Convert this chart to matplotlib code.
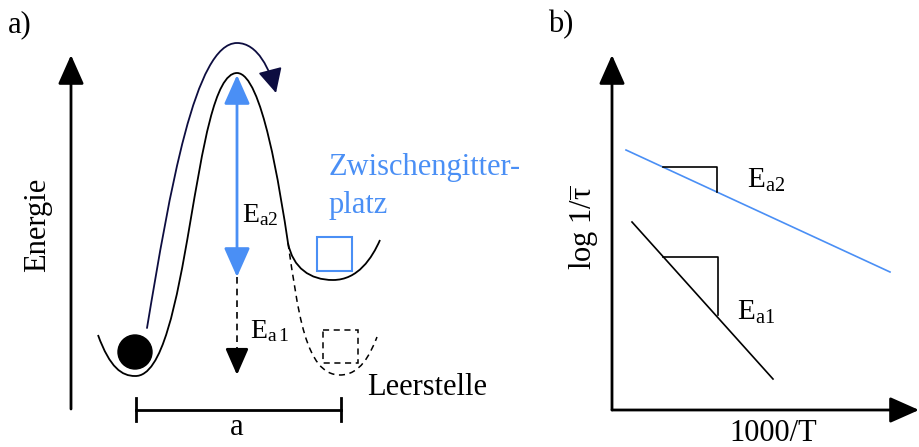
import matplotlib
matplotlib.use("Agg")
import matplotlib.pyplot as plt
from matplotlib.path import Path
from matplotlib.patches import PathPatch, FancyArrowPatch, Circle, Rectangle

# Schema in Pixelkoordinaten (Bild 919 x 447, y nach unten)
BLAU = "#4a8ff5"
NAVY = "#0d0d40"

# a) Potentialverlauf: Bezier-Stuetzpunkte (Start, dann je 3 Punkte pro Segment)
pot_fest = [(98, 335),
            (110, 368), (122, 376), (135, 376),
            (190, 378), (192, 73), (237, 73),
            (262, 73), (280, 190), (288, 243),
            (293, 268), (310, 280), (333, 280),
            (358, 280), (372, 258), (380, 240)]
pot_leer = [(288, 243),
            (298, 310), (305, 375), (340, 375),
            (360, 375), (370, 355), (377, 337)]
sprung = [(147, 328),
          (170, 190), (195, 43), (237, 43),
          (258, 43), (270, 70), (276, 93)]
ball = (135, 352, 17)
quad_zgp = (317, 237, 35, 34)
quad_leer = (323, 330, 35, 33)
pfeil_ea2 = (237, 75, 277)
pfeil_ea1 = (237, 277, 375)
skala = (136, 341, 410)

# b) Arrhenius-Geraden
gerade_ea2_x = [626, 890]
gerade_ea2_y = [150, 272]
gerade_ea1_x = [632, 773]
gerade_ea1_y = [222, 379]
dreieck_ea2 = [(663, 167), (717, 167), (717, 192)]
dreieck_ea1 = [(663, 257), (718, 257), (718, 315)]

plt.rcParams['font.family'] = ['Liberation Serif', 'DejaVu Serif']
plt.rcParams['mathtext.fontset'] = 'custom'
plt.rcParams['mathtext.rm'] = 'Liberation Serif'
plt.rcParams['mathtext.it'] = 'Liberation Serif:italic'

fig = plt.figure(figsize=(9.19, 4.47), dpi=100)
ax = fig.add_axes([0, 0, 1, 1])
ax.set_xlim(0, 919)
ax.set_ylim(447, 0)
ax.axis('off')


def bezier(punkte):
    codes = [Path.MOVETO] + [Path.CURVE4] * (len(punkte) - 1)
    return Path(punkte, codes)


def pfeil(p0, p1, farbe='black', lw=2, hl=17, hw=7.5, ls='-', beide=False):
    stil = '<|-|>' if beide else '-|>'
    a = FancyArrowPatch(p0, p1, arrowstyle=f'{stil},head_length={hl},head_width={hw}',
                        color=farbe, lw=lw, linestyle=ls, shrinkA=0, shrinkB=0,
                        mutation_scale=1)
    ax.add_patch(a)


# ---- a) ----
ax.add_patch(PathPatch(bezier(pot_fest), fc='none', ec='black', lw=1.3))
ax.add_patch(PathPatch(bezier(pot_leer), fc='none', ec='black', lw=1.1, ls=(0, (4, 3))))
ax.add_patch(Circle(ball[:2], ball[2], color='black'))
ax.add_patch(Rectangle(quad_zgp[:2], quad_zgp[2], quad_zgp[3], fc='none', ec=BLAU, lw=1.5))
ax.add_patch(Rectangle(quad_leer[:2], quad_leer[2], quad_leer[3], fc='none', ec='black',
                       lw=1.1, ls=(0, (4, 3))))

ax.add_patch(FancyArrowPatch(path=bezier(sprung), arrowstyle='-|>,head_length=15,head_width=7.5',
                             color=NAVY, lw=1.3, mutation_scale=1))

# Energieachse
pfeil((71, 409), (71, 55), lw=2, hl=18, hw=8)
# Ea2 Doppelpfeil und Ea1 gestrichelt
pfeil((pfeil_ea2[0], pfeil_ea2[2]), (pfeil_ea2[0], pfeil_ea2[1]), farbe=BLAU, lw=2,
      hl=18, hw=8, beide=True)
ax.plot([pfeil_ea1[0]] * 2, [pfeil_ea1[1], pfeil_ea1[2] - 14], color='black', lw=1.2,
        ls=(0, (4, 3)))
pfeil((pfeil_ea1[0], pfeil_ea1[2] - 16), (pfeil_ea1[0], pfeil_ea1[2]), hl=16, hw=7)

# Abstand a
ax.plot([skala[0], skala[1]], [skala[2], skala[2]], color='black', lw=2)
for xs in skala[:2]:
    ax.plot([xs, xs], [skala[2] - 12, skala[2] + 11], color='black', lw=2)

fs = 22
ax.text(8, 32, 'a)', fontsize=fs, ha='left', va='baseline')
ax.text(38, 225, 'Energie', fontsize=fs, rotation=90, ha='center', va='center')
ax.text(237, 435, 'a', fontsize=fs, ha='center', va='baseline')
ax.text(329, 175, 'Zwischengitter-', fontsize=fs, color=BLAU, ha='left', va='baseline')
ax.text(329, 213, 'platz', fontsize=fs, color=BLAU, ha='left', va='baseline')
ax.text(367, 395, 'Leerstelle', fontsize=fs, ha='left', va='baseline')
ax.text(242, 222, r'$\mathrm{E_{a2}}$', fontsize=20, ha='left', va='baseline')
ax.text(250, 338, r'$\mathrm{E_{a\,1}}$', fontsize=20, ha='left', va='baseline')

# ---- b) ----
pfeil((612, 410), (612, 55), lw=2, hl=18, hw=8)
pfeil((612, 410), (919, 410), lw=2, hl=18, hw=8)
ax.plot(gerade_ea2_x, gerade_ea2_y, color=BLAU, lw=1.2)
ax.plot(gerade_ea1_x, gerade_ea1_y, color='black', lw=1.2)
for d in (dreieck_ea2, dreieck_ea1):
    xs, ys = zip(*d)
    ax.plot(xs, ys, color='black', lw=1.2)

ax.text(548, 32, 'b)', fontsize=fs, ha='left', va='baseline')
ax.text(584, 228, r'log 1/$\overline{\mathrm{\tau}}$', fontsize=fs, rotation=90,
        ha='center', va='center')
ax.text(773, 441, '1000/T', fontsize=fs, ha='center', va='baseline')
ax.text(747, 188, r'$\mathrm{E_{a2}}$', fontsize=21, ha='left', va='baseline')
ax.text(737, 320, r'$\mathrm{E_{a1}}$', fontsize=21, ha='left', va='baseline')

fig.savefig('out.png', dpi=100)
